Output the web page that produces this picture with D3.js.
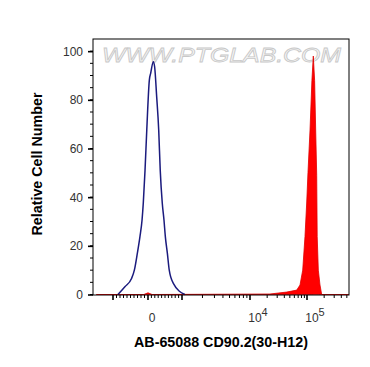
<!DOCTYPE html>
<html>
<head>
<meta charset="utf-8">
<script src="https://cdn.jsdelivr.net/npm/d3@7/dist/d3.min.js"></script>
<style>
  html, body { margin: 0; padding: 0; background: #fff; }
  svg { display: block; font-family: "Liberation Sans", Arial, sans-serif; }
</style>
</head>
<body>
<svg id="chart" width="370" height="367"></svg>
<script>
// ---- data ----
const blueChannel = [-860, -660, -470, -390, -305, -230, -170, -135, -85, -35, 40, 80, 155, 195, 255, 315, 360, 420, 470, 510, 570, 625, 745, 1100];
const blueCount   = [0, 3.2, 6.6, 10, 16.9, 23.8, 30.6, 37.5, 51, 67.6, 88.2, 91, 95.7, 93.6, 81.3, 67.6, 51, 37.5, 30.6, 23.8, 16.9, 10, 4.6, 0];

const redChannel = [-3000, -120, 0, 120, 22400, 44000, 66000, 75400, 84100, 92200, 98800, 104000, 113000, 122000, 129000, 136000, 142000, 148000, 151000, 158000, 169000, 181000, 540000];
const redCount   = [0, 0, 0.7, 0, 0.2, 1, 1.8, 3.9, 10, 23.8, 37.6, 50, 67.6, 88, 98, 88, 67.6, 49, 23.8, 10, 3.9, 0, 0];

const yTicks = [0, 20, 40, 60, 80, 100];
const yMinorTicks = d3.range(0, 101, 5);
const xMajorTicks = [-1000, 0, 1000, 10000, 100000];
const xMinorTicks = [-900, -800, -700, -600, -500, -400, -300, -200, -100,
  100, 200, 300, 400, 500, 600, 700, 800, 900,
  2000, 3000, 4000, 5000, 6000, 7000, 8000, 9000,
  20000, 30000, 40000, 50000, 60000, 70000, 80000, 90000,
  200000, 300000, 400000, 500000];
const xTickLabels = [{v: 0, base: "0", exp: ""}, {v: 10000, base: "10", exp: "4"}, {v: 100000, base: "10", exp: "5"}];
const xTitle = "AB-65088 CD90.2(30-H12)";
const yTitle = "Relative Cell Number";
const watermark = "WWW.PTGLAB.COM";

// ---- layout ----
const pLeft = 93, pRight = 349, pTop = 39, pBottom = 295;
const svg = d3.select("#chart");

// biexponential-like transform: linear within ±1000, log decades beyond
function T(v) {
  const a = Math.abs(v);
  if (a <= 1000) return v / 1000;
  return Math.sign(v) * (1 + Math.log10(a / 1000));
}
const xT = d3.scaleLinear().domain([-1, 0, 1, 2, 3]).range([113, 148, 182, 250, 307]);
const x = v => xT(T(v));
const y = d3.scaleLinear().domain([0, 105]).range([294.5, pTop]);

// watermark
svg.append("text")
  .attr("x", 102).attr("y", 62)
  .attr("textLength", 239).attr("lengthAdjust", "spacingAndGlyphs")
  .style("font-size", "21px").style("font-style", "italic")
  .attr("fill", "#f6f6f6").attr("stroke", "#c8c8c8").attr("stroke-width", 0.8)
  .text(watermark);

// red filled histogram
const redData = redChannel.map((c, i) => [c, redCount[i]]);
svg.append("path")
  .datum(redData)
  .attr("d", d3.area().x(d => Math.max(pLeft, Math.min(pRight, x(d[0])))).y0(y(0)).y1(d => y(d[1])))
  .attr("fill", "#ff0000").attr("stroke", "#e00000").attr("stroke-width", 0.8);

// blue line
const blueData = blueChannel.map((c, i) => [c, blueCount[i]]);
svg.append("path")
  .datum(blueData)
  .attr("d", d3.line().x(d => x(d[0])).y(d => y(d[1])).curve(d3.curveMonotoneX))
  .attr("fill", "none").attr("stroke", "#1b1b7e").attr("stroke-width", 1.5);

// frame
svg.append("rect")
  .attr("x", pLeft).attr("y", pTop).attr("width", pRight - pLeft).attr("height", pBottom - pTop)
  .attr("fill", "none").attr("stroke", "#000").attr("stroke-width", 1);

// y axis
const yAxis = svg.append("g").attr("transform", `translate(${pLeft},0)`)
  .call(d3.axisLeft(y).tickValues(yTicks).tickSize(5).tickPadding(5));
yAxis.select(".domain").remove();
yAxis.selectAll(".tick line").attr("stroke-width", 1.6);
yAxis.selectAll(".tick text").style("font-size", "12px").attr("fill", "#333")
  .style("font-family", "'Liberation Sans', Arial, sans-serif");
svg.append("g").selectAll("line").data(yMinorTicks).join("line")
  .attr("x1", pLeft - 3).attr("x2", pLeft).attr("y1", d => y(d)).attr("y2", d => y(d))
  .attr("stroke", "#000").attr("stroke-width", 1);

// x axis ticks
svg.append("g").selectAll("line").data(xMajorTicks).join("line")
  .attr("x1", d => x(d)).attr("x2", d => x(d)).attr("y1", pBottom).attr("y2", pBottom + 5)
  .attr("stroke", "#000").attr("stroke-width", 1.6);
svg.append("g").selectAll("line").data(xMinorTicks).join("line")
  .attr("x1", d => x(d)).attr("x2", d => x(d)).attr("y1", pBottom).attr("y2", pBottom + 3)
  .attr("stroke", "#000").attr("stroke-width", 1);

const xl = svg.append("g").selectAll("text").data(xTickLabels).join("text")
  .attr("x", d => x(d.v) + (d.exp ? 8 : 4)).attr("y", 322)
  .attr("text-anchor", "middle").style("font-size", "12px").attr("fill", "#333");
xl.append("tspan").text(d => d.base);
xl.filter(d => d.exp).append("tspan").attr("dy", -6).style("font-size", "11px").text(d => d.exp);

// titles
svg.append("text")
  .attr("x", 221).attr("y", 347).attr("text-anchor", "middle")
  .style("font-size", "14.3px").style("font-weight", "bold").attr("fill", "#000")
  .text(xTitle);
svg.append("text")
  .attr("transform", "translate(42,164) rotate(-90)").attr("text-anchor", "middle")
  .style("font-size", "14.3px").style("font-weight", "bold").attr("fill", "#000")
  .text(yTitle);
</script>
</body>
</html>
